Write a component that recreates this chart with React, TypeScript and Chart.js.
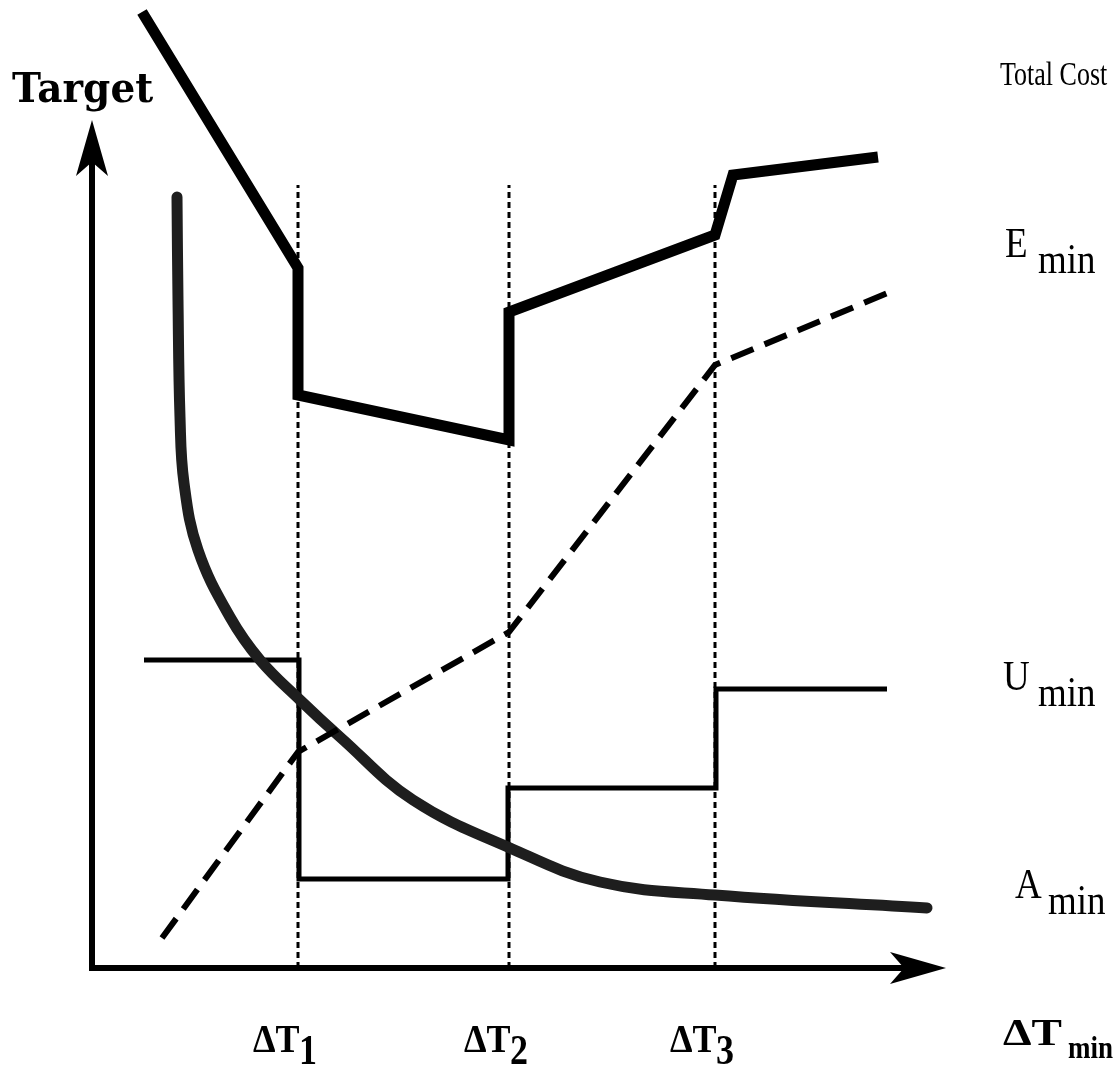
import React, { useEffect, useRef } from 'react';
import { Chart, registerables } from 'chart.js';

Chart.register(...registerables);

// ---- data (abstract units: x = ΔTmin, y = target) ----
const X_MAX = 100;
const Y_MAX = 96;
const X_AXIS_END = 85.4;
const Y_AXIS_END = 84.8;

const deltaT = [20.6, 41.7, 62.3];
const deltaTSubs = ['1', '2', '3'];
const guideTop = 78.3;

const totalCostX = [5.0, 20.6, 20.6, 41.7, 41.7, 62.3, 64.1, 78.6];
const totalCostY = [95.6, 70.0, 57.3, 52.8, 65.6, 73.3, 79.3, 81.1];

const energyX = [7.0, 20.6, 41.7, 62.3, 79.8];
const energyY = [3.0, 21.6, 33.6, 60.3, 67.6];

const unitsX = [5.2, 20.7, 20.7, 41.6, 41.6, 62.4, 62.4, 79.5];
const unitsY = [30.8, 30.8, 8.9, 8.9, 18.0, 18.0, 27.9, 27.9];

const areaX = [8.5, 8.6, 8.8, 9.2, 10.6, 13.8, 16.8, 20.8, 24.8, 32.1, 41.8, 50.8, 62.3, 83.5];
const areaY = [77.1, 66.8, 55.1, 48.5, 41.8, 35.1, 30.8, 26.8, 23.1, 16.8, 12.0, 8.6, 7.3, 6.0];

const yTitle = 'Target';
const totalCostLabel = 'Total Cost';
const seriesLetters = ['E', 'U', 'A'];
const subMin = 'min';

const pts = (xs: number[], ys: number[]) => xs.map((x, i) => ({ x, y: ys[i] }));

function drawText(ctx: CanvasRenderingContext2D, text: string, x: number, y: number, font: string, sx = 1, sy = 1) {
  ctx.save();
  ctx.translate(x, y);
  ctx.scale(sx, sy);
  ctx.font = font;
  ctx.fillText(text, 0, 0);
  ctx.restore();
}

const decorPlugin = {
  id: 'decor',
  afterDatasetsDraw(chart: any) {
    const { ctx, scales } = chart;
    const xs = scales.x;
    const ys = scales.y;
    const ox = xs.getPixelForValue(0);
    const oy = ys.getPixelForValue(0);
    const xEnd = xs.getPixelForValue(X_AXIS_END);
    const yEnd = ys.getPixelForValue(Y_AXIS_END);
    ctx.save();
    ctx.strokeStyle = '#000';
    ctx.fillStyle = '#000';
    ctx.lineWidth = 6;
    ctx.lineCap = 'butt';
    // axes
    ctx.beginPath();
    ctx.moveTo(ox, oy + 3);
    ctx.lineTo(ox, yEnd + 30);
    ctx.moveTo(ox - 3, oy);
    ctx.lineTo(xEnd - 30, oy);
    ctx.stroke();
    // y arrow head
    ctx.beginPath();
    ctx.moveTo(ox, yEnd);
    ctx.lineTo(ox + 16, yEnd + 56);
    ctx.lineTo(ox, yEnd + 42);
    ctx.lineTo(ox - 16, yEnd + 56);
    ctx.closePath();
    ctx.fill();
    // x arrow head
    ctx.beginPath();
    ctx.moveTo(xEnd, oy);
    ctx.lineTo(xEnd - 56, oy - 16);
    ctx.lineTo(xEnd - 42, oy);
    ctx.lineTo(xEnd - 56, oy + 16);
    ctx.closePath();
    ctx.fill();

    ctx.textBaseline = 'alphabetic';
    ctx.textAlign = 'left';
    drawText(ctx, yTitle, 12, 102, 'bold 39px "DejaVu Serif"', 1, 1.05);
    drawText(ctx, totalCostLabel, 1000, 85, '26px "Liberation Serif"', 1, 1.3);
    const lab = [
      { t: seriesLetters[0], x: 1005, y: 257, sx: 1038, sy: 273 },
      { t: seriesLetters[1], x: 1003, y: 690, sx: 1038, sy: 706 },
      { t: seriesLetters[2], x: 1015, y: 898, sx: 1048, sy: 914 },
    ];
    lab.forEach((l) => {
      drawText(ctx, l.t, l.x, l.y, '37px "Liberation Serif"', 1, 1.15);
      drawText(ctx, subMin, l.sx, l.sy, '37px "Liberation Serif"', 1, 1.15);
    });
    // ΔTmin
    drawText(ctx, '\u0394T', 1003, 1045, 'bold 38px "Liberation Serif"', 1.2, 1.0);
    drawText(ctx, subMin, 1068, 1058, 'bold 27px "Liberation Serif"', 1, 1.2);
    // ΔT ticks
    deltaT.forEach((v, i) => {
      const px = xs.getPixelForValue(v);
      drawText(ctx, '\u0394T', px - 45, 1052, 'bold 36px "Liberation Serif"', 1, 1.1);
      drawText(ctx, deltaTSubs[i], px + 1, 1064, 'bold 36px "Liberation Serif"', 1, 1.2);
    });
    ctx.restore();
  },
};

export default function App() {
  const ref = useRef<HTMLCanvasElement>(null);
  useEffect(() => {
    document.body.style.margin = '0';
    const guides = deltaT.map((v) => ({
      data: [{ x: v, y: 0 }, { x: v, y: guideTop }],
      showLine: true,
      borderColor: '#000',
      borderWidth: 3,
      borderDash: [6, 4],
      pointRadius: 0,
    }));
    const chart = new Chart(ref.current as HTMLCanvasElement, {
      type: 'scatter',
      data: {
        datasets: [
          {
            data: pts(totalCostX, totalCostY),
            showLine: true,
            borderColor: '#000',
            borderWidth: 11,
            borderJoinStyle: 'miter',
            pointRadius: 0,
          },
          {
            data: pts(energyX, energyY),
            showLine: true,
            borderColor: '#000',
            borderWidth: 6,
            borderDash: [24, 12],
            pointRadius: 0,
          },
          {
            data: pts(areaX, areaY),
            showLine: true,
            borderColor: '#1e1e1e',
            borderWidth: 11,
            tension: 0.4,
            borderCapStyle: 'round',
            pointRadius: 0,
          },
          {
            data: pts(unitsX, unitsY),
            showLine: true,
            borderColor: '#000',
            borderWidth: 5,
            borderJoinStyle: 'miter',
            pointRadius: 0,
          },
          ...guides,
        ] as any,
      },
      options: {
        animation: false,
        responsive: false,
        clip: false as any,
        layout: { padding: { left: 92, right: 28, top: 8, bottom: 98 } },
        scales: {
          x: { type: 'linear', min: 0, max: X_MAX, display: false },
          y: { type: 'linear', min: 0, max: Y_MAX, display: false },
        },
        plugins: { legend: { display: false }, tooltip: { enabled: false } },
      },
      plugins: [decorPlugin],
    });
    return () => chart.destroy();
  }, []);
  return <canvas ref={ref} width={1120} height={1066} style={{ display: 'block' }} />;
}
